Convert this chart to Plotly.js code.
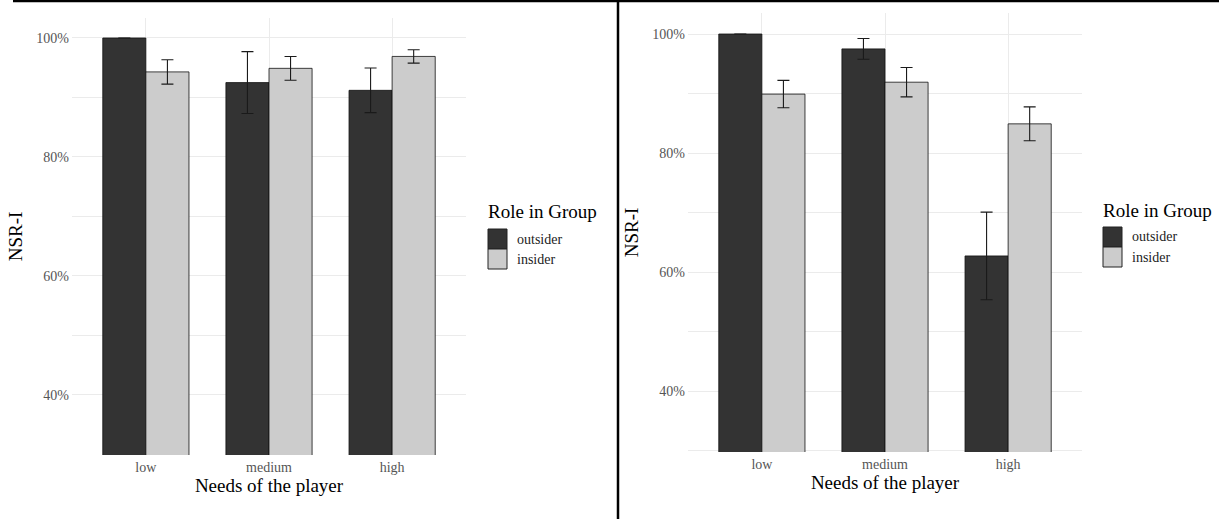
<!DOCTYPE html>
<html>
<head>
<meta charset="utf-8">
<script src="https://cdn.plot.ly/plotly-3.0.1.min.js"></script>
<style>
  html, body { margin: 0; padding: 0; background: #ffffff; }
  #chart { width: 1219px; height: 519px; }
</style>
</head>
<body>
<div id="chart"></div>
<script>
// Categories and series values (proportions) for the two panels
const needs = ['low', 'medium', 'high'];
const roles = ['outsider', 'insider'];

const leftOutsider    = [1.000, 0.925, 0.912];
const leftOutsiderErr = [null, 0.052, 0.0375];
const leftInsider     = [0.943, 0.949, 0.969];
const leftInsiderErr  = [0.0205, 0.020, 0.0113];

const rightOutsider    = [1.000, 0.975, 0.627];
const rightOutsiderErr = [null, 0.0174, 0.0737];
const rightInsider     = [0.899, 0.919, 0.849];
const rightInsiderErr  = [0.023, 0.0247, 0.0285];

const yTickVals  = [0.4, 0.6, 0.8, 1.0];
const yMinorVals = [0.3, 0.5, 0.7, 0.9];

// Page geometry (pixels)
const W = 1219, H = 519;
const px = v => v / W;
const py = v => 1 - v / H;

const FONT = 'Liberation Serif, Times New Roman, serif';
const DARK = '#333333', LIGHT = '#cccccc', GRID = '#ebebeb';

function barTrace(y, err, color, name, xa, ya) {
  return {
    type: 'bar', x: needs, y: y, name: name,
    xaxis: xa, yaxis: ya, showlegend: false,
    marker: { color: color, line: { color: '#111111', width: 0.8 } },
    error_y: { type: 'data', array: err, visible: true, color: '#1a1a1a', thickness: 1.1, width: 6 },
    hoverinfo: 'skip'
  };
}

const data = [
  barTrace(leftOutsider, leftOutsiderErr, DARK, roles[0], 'x', 'y'),
  barTrace(leftInsider, leftInsiderErr, LIGHT, roles[1], 'x', 'y'),
  barTrace(rightOutsider, rightOutsiderErr, DARK, roles[0], 'x2', 'y2'),
  barTrace(rightInsider, rightInsiderErr, LIGHT, roles[1], 'x2', 'y2')
];

function xAxis(domain, anchor) {
  return {
    domain: domain, anchor: anchor, type: 'category',
    range: [-0.6, 2.6], fixedrange: true,
    showgrid: true, gridcolor: GRID, gridwidth: 1,
    showline: false, zeroline: false, ticks: '',
    tickfont: { family: FONT, size: 14, color: '#555555' },
    ticklabelstandoff: 2,
    title: { text: 'Needs of the player', font: { family: FONT, size: 19, color: '#000000' }, standoff: 2 }
  };
}

function yAxis(domain, anchor, range) {
  return {
    domain: domain, anchor: anchor, range: range, fixedrange: true,
    tickmode: 'array', tickvals: yTickVals, tickformat: '.0%',
    showgrid: true, gridcolor: GRID, gridwidth: 1,
    minor: { tickmode: 'array', tickvals: yMinorVals, showgrid: true, gridcolor: GRID, gridwidth: 1, ticks: '' },
    showline: false, zeroline: false, ticks: '',
    tickfont: { family: FONT, size: 14, color: '#555555' },
    ticklabelstandoff: 2,
    title: { text: 'NSR-I', font: { family: FONT, size: 19, color: '#000000' }, standoff: 8 }
  };
}

// Manual legend (one per panel), ggplot style keys
function legendParts(x0, yTitle, keyTop) {
  const shapes = [], ann = [];
  const kw = 19, kh = 20;
  [DARK, LIGHT].forEach((c, i) => {
    shapes.push({
      type: 'rect', xref: 'paper', yref: 'paper',
      x0: px(x0 + 1), x1: px(x0 + 1 + kw),
      y0: py(keyTop + (i + 1) * kh), y1: py(keyTop + i * kh),
      fillcolor: c, line: { color: '#222222', width: 1 }
    });
    ann.push({
      xref: 'paper', yref: 'paper', x: px(x0 + 28), y: py(keyTop + i * kh + kh / 2),
      xanchor: 'left', yanchor: 'middle', showarrow: false,
      text: roles[i], font: { family: FONT, size: 14, color: '#222222' }
    });
  });
  ann.push({
    xref: 'paper', yref: 'paper', x: px(x0 - 1), y: py(yTitle),
    xanchor: 'left', yanchor: 'middle', showarrow: false,
    text: 'Role in Group', font: { family: FONT, size: 19, color: '#000000' }
  });
  return { shapes, ann };
}

const legL = legendParts(487, 212, 229);
const legR = legendParts(1102, 210, 227);

// Page frame: top rule and the divider between the two panels
const frameShapes = [
  { type: 'line', xref: 'paper', yref: 'paper', x0: px(13), x1: 1, y0: py(1), y1: py(1),
    line: { color: '#000000', width: 2.5 } },
  { type: 'line', xref: 'paper', yref: 'paper', x0: px(618), x1: px(618), y0: 0, y1: 1,
    line: { color: '#000000', width: 2.5 } }
];

const layout = {
  width: W, height: H,
  margin: { l: 0, r: 0, t: 0, b: 0, pad: 0 },
  paper_bgcolor: '#ffffff', plot_bgcolor: '#ffffff',
  barmode: 'group', bargap: 0.3, bargroupgap: 0,
  showlegend: false,
  font: { family: FONT },
  xaxis: xAxis([px(72), px(466)], 'y'),
  yaxis: yAxis([py(455), py(18)], 'x', [0.299, 1.0336]),
  xaxis2: xAxis([px(688), px(1082)], 'y2'),
  yaxis2: yAxis([py(452), py(13)], 'x2', [0.2975, 1.0353]),
  shapes: frameShapes.concat(legL.shapes, legR.shapes),
  annotations: legL.ann.concat(legR.ann)
};

Plotly.newPlot('chart', data, layout, { staticPlot: true, displayModeBar: false });
</script>
</body>
</html>
